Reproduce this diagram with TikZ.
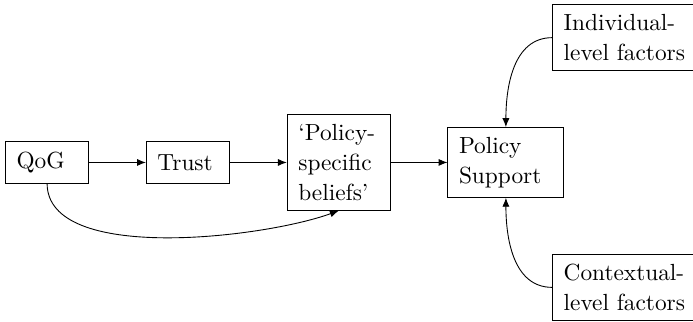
\documentclass[tikz,border=0pt]{standalone}
\usetikzlibrary{positioning, arrows.meta}

\begin{document}
\begin{tikzpicture}[>={Latex[length=4pt,width=3.2pt]}]
		\tikzstyle{box}=[draw, align=left, inner xsep=5pt, inner ysep=4.3pt, minimum height=18.5pt, font=\fontsize{10.5}{13.5}\selectfont]
		\tikzstyle{narrow}=[box, text width=27.5pt]
		\matrix[column sep=25.5pt, row sep=19.5pt]
		{
			& & & &[-31pt] \node[box] (indiv) {Individual-\\level factors};\\
			\node[narrow] (qog) {QoG}; & \node[narrow] (trust) {Trust}; & \node[box, text width=36.4pt] (beliefs) {`Policy-\\specific\\beliefs'}; & \node[box, text width=42.2pt] (support) {Policy\\Support}; &[-31pt] \\
			& & & &[-31pt] \node[box] (context) {Contextual-\\level factors};\\
		};
		\draw[->] (qog) -- (trust);
		\draw[->] (trust) -- (beliefs);
		\draw[->] (beliefs) -- (support);
		\draw[->] (qog.south) to[out=-90, in=-160, looseness=0.7] (beliefs.south);
		\draw[->] (indiv.west) to[out=180, in=90] (support.north);
		\draw[->] (context.west) to[out=180, in=-90] (support.south);
		\path (qog.west |- indiv.north) ++(-2.25pt,2pt) coordinate (corner);
		\pgfresetboundingbox
		\useasboundingbox (corner) rectangle ++(311.85pt,-144.45pt);
\end{tikzpicture}
\end{document}
